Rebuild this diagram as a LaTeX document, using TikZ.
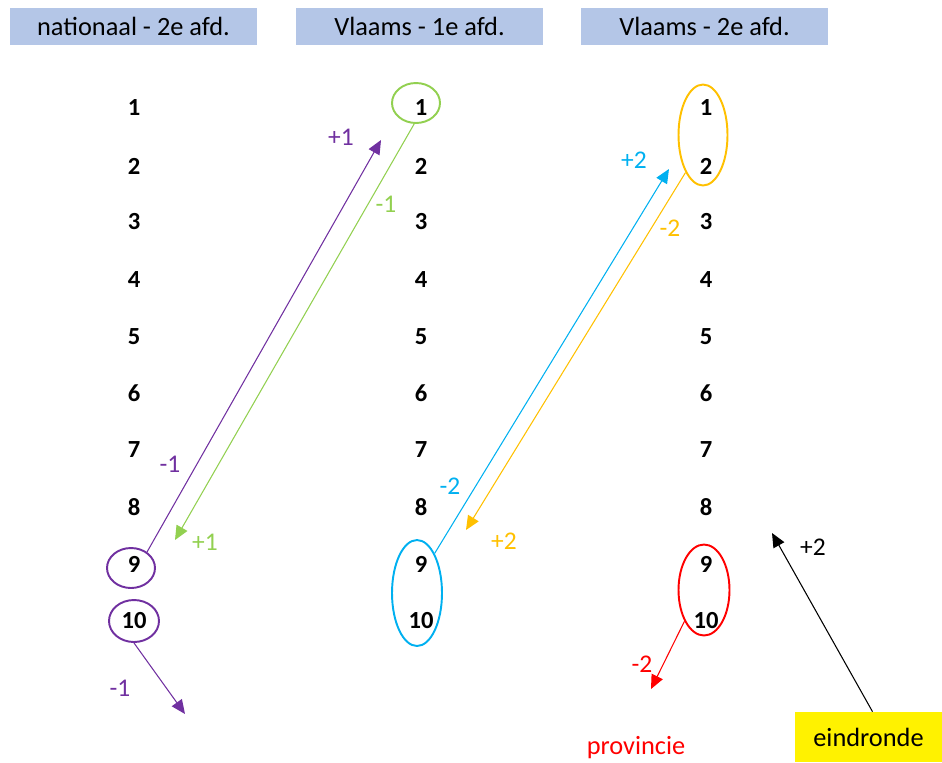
\documentclass[tikz,border=0pt]{standalone}
\usepackage{fontspec}
\setmainfont{Carlito}
\usetikzlibrary{shapes.geometric}
\usetikzlibrary{arrows.meta}

\definecolor{kopblauw}{RGB}{180,198,231}
\definecolor{paars}{RGB}{112,48,160}
\definecolor{groen}{RGB}{146,208,80}
\definecolor{blauw}{RGB}{0,176,240}
\definecolor{oranje}{RGB}{255,192,0}

\begin{document}
\begin{tikzpicture}[x=0.02cm, y=-0.02cm,
    every node/.style={font=\fontsize{14.5}{17}\selectfont},
    kop/.style={fill=kopblauw, minimum width=4.94cm, minimum height=0.74cm, inner sep=0pt,
      font=\fontsize{15}{18}\selectfont},
    nr/.style={font=\fontsize{14}{17}\selectfont\bfseries},
    ring/.style={ellipse, draw, line width=1.1pt, inner sep=0pt},
    pijl/.style={-{Triangle[length=8pt,width=7pt]}, line width=0.6pt}
    ]
  \useasboundingbox (0,0) rectangle (942,762);

  % koppen
  \node[kop] (k1) at (133.5,26.5) {nationaal - 2e afd.};
  \node[kop] (k2) at (419.5,26.5) {Vlaams - 1e afd.};
  \node[kop] (k3) at (704.5,26.5) {Vlaams - 2e afd.};

  % rangschikking
  \foreach \y [count=\i] in {108,166,222,280,337,393,450,507,564,621} {
    \node[nr] (a\i) at (134,\y) {\i};
    \node[nr] (b\i) at (421,\y) {\i};
    \node[nr] (c\i) at (706,\y) {\i};
  }

  % omcirkelde plaatsen
  \node[ring, draw=paars, minimum width=0.96cm, minimum height=0.8cm] (pa9) at (131,568) {};
  \node[ring, draw=paars, minimum width=1cm, minimum height=0.84cm] (pa10) at (134,621) {};
  \node[ring, draw=groen, minimum width=0.96cm, minimum height=0.8cm] (pb1) at (416,103) {};
  \node[ring, draw=blauw, minimum width=1cm, minimum height=2.12cm] (pb9) at (417,593) {};
  \node[ring, draw=oranje, minimum width=0.98cm, minimum height=2.02cm] (pc1) at (703,135) {};
  \node[ring, draw=red, minimum width=1.02cm, minimum height=1.82cm] (pc9) at (704,590) {};

  \node[fill=yellow, minimum width=2.94cm, minimum height=1cm, inner sep=0pt,
    font=\fontsize{15}{18}\selectfont] (eind) at (868.5,737) {eindronde};
  \node[text=red, font=\fontsize{15}{18}\selectfont] (prov) at (636,748) {provincie};

  % pijlen
  \coordinate (t1) at (381,140);
  \coordinate (t2) at (175,540);
  \coordinate (t3) at (185,714);
  \coordinate (t4) at (669,169);
  \coordinate (t5) at (466,530);
  \coordinate (t6) at (651,689);
  \coordinate (t7) at (772,533);

  \draw[pijl, paars] (pa9.45) -- (t1);
  \draw[pijl, groen] (pb1.265) -- (t2);
  \draw[pijl, paars] (pa10.south) -- (t3);
  \draw[pijl, blauw] (pb9.66) -- (t4);
  \draw[pijl, oranje] (pc1.245) -- (t5);
  \draw[pijl, red] (pc9.238) -- (t6);
  \draw[pijl, black] (eind.north) ++(4,0) coordinate (e0) (e0) -- (t7);

  % getallen bij de pijlen
  \node[text=paars] (l1) at (341,137) {+1};
  \node[text=paars] (l2) at (170,464) {-1};
  \node[text=paars] (l3) at (120,688) {-1};
  \node[text=groen] (l4) at (386,204) {-1};
  \node[text=groen] (l5) at (205,542) {+1};
  \node[text=blauw] (l6) at (634,160) {+2};
  \node[text=blauw] (l7) at (450,486) {-2};
  \node[text=oranje] (l8) at (670,228) {-2};
  \node[text=oranje] (l9) at (504,541) {+2};
  \node[text=red] (l10) at (642,664) {-2};
  \node (l11) at (813,547) {+2};
\end{tikzpicture}
\end{document}
